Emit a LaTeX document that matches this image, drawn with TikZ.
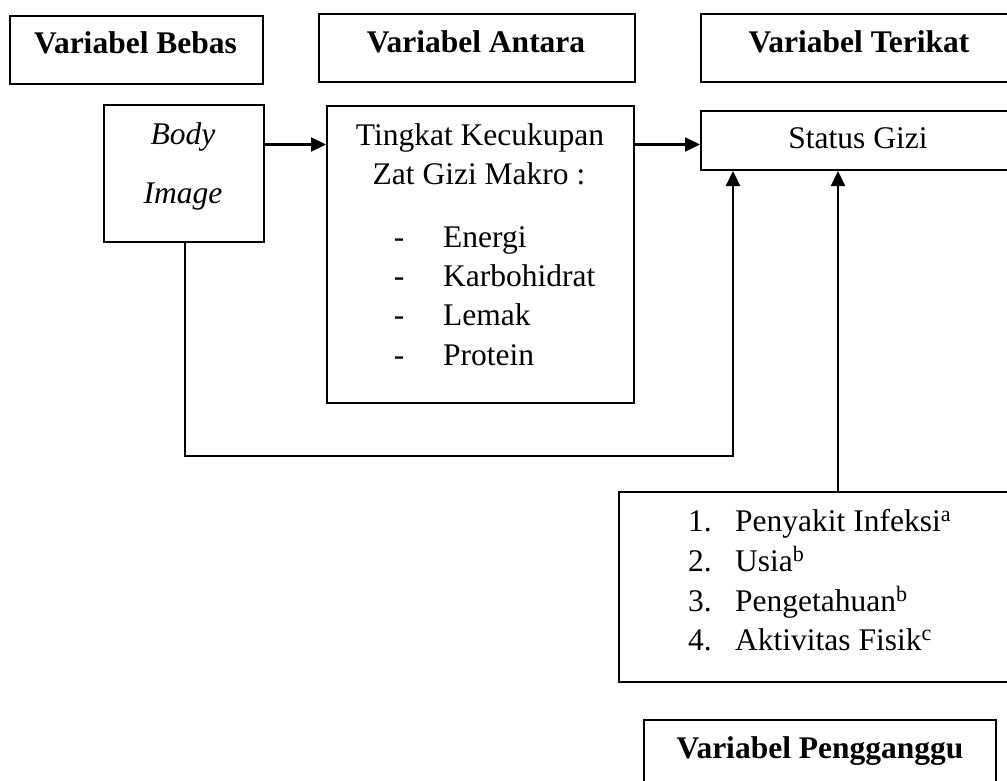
\documentclass[tikz,border=0pt]{standalone}
\usepackage{fontspec}
\setmainfont{Liberation Serif}
\usetikzlibrary{arrows.meta}
\begin{document}
\begin{tikzpicture}[x=1pt,y=-1pt,
  box/.style={draw, line width=2pt, inner sep=0pt, anchor=north west},
  conn/.style={line width=2.2pt, -{Triangle[length=15pt,width=14pt]}},
  plain/.style={line width=2.2pt},
  txt/.style={inner sep=0pt, font=\fontsize{31.5}{38}\selectfont},
  ttl/.style={inner sep=0pt, font=\fontsize{31.5}{38}\selectfont\bfseries}]
\useasboundingbox (0,0) rectangle (1007,781);
\clip (0,0) rectangle (1007,781);
% boxes
\node[box, minimum width=253pt, minimum height=68pt] (bebas) at (9,15) {};
\node[box, minimum width=316pt, minimum height=68pt] (antara) at (318,13) {};
\node[box, minimum width=318pt, minimum height=68pt] (terikat) at (700,13) {};
\node[box, minimum width=160pt, minimum height=137pt] (body) at (103,104) {};
\node[box, minimum width=307pt, minimum height=297pt] (tingkat) at (326,105) {};
\node[box, minimum width=316pt, minimum height=59pt] (status) at (700,110) {};
\node[box, minimum width=410pt, minimum height=190pt] (conf) at (618,491) {};
\node[box, minimum width=352pt, minimum height=90pt] (peng) at (643,719) {};
% titles
\node[ttl, anchor=base] (tbebas) at (135.5,54) {Variabel Bebas};
\node[ttl, anchor=base] (tantara) at (476,53) {Variabel Antara};
\node[ttl, anchor=base] (tterikat) at (859,53) {Variabel Terikat};
\node[ttl, anchor=base] (tpeng) at (820,758) {Variabel Pengganggu};
% body image
\node[txt, anchor=base] (tbody1) at (183,145) {\itshape Body};
\node[txt, anchor=base] (tbody2) at (183,204) {\itshape Image};
% tingkat
\node[txt, anchor=base] (tt1) at (480,146) {Tingkat Kecukupan};
\node[txt, anchor=base] (tt2) at (479,185) {Zat Gizi Makro :};
\foreach \yy/\item [count=\i] in {247/Energi, 286/Karbohidrat, 325/Lemak, 365/Protein}{
  \node[txt, anchor=base] (dash\i) at (399,\yy) {-};
  \node[txt, anchor=base west] (item\i) at (443,\yy) {\item};
}
% status
\node[txt, anchor=base] (tstatus) at (858,149) {Status Gizi};
% confounders
\foreach \yy/\num/\item [count=\i] in {531/1./Penyakit Infeksi\textsuperscript{a}, 571/2./Usia\textsuperscript{b}, 611/3./Pengetahuan\textsuperscript{b}, 650/4./Aktivitas Fisik\textsuperscript{c}}{
  \node[txt, anchor=base west] (cn\i) at (688,\yy) {\num};
  \node[txt, anchor=base west] (ci\i) at (735,\yy) {\item};
}
% connectors
\coordinate (row) at (0,144.5);
\coordinate (fbcorner) at (733,456);
\coordinate (cx) at (838,0);
\draw[conn] (body.east |- row) -- (tingkat.west |- row);
\draw[conn] (tingkat.east |- row) -- (status.west |- row);
\draw[conn] (body.south -| 185,0) |- (fbcorner) -- (status.south -| fbcorner);
\draw[conn] (conf.north -| cx) -- (status.south -| cx);
\end{tikzpicture}
\end{document}
